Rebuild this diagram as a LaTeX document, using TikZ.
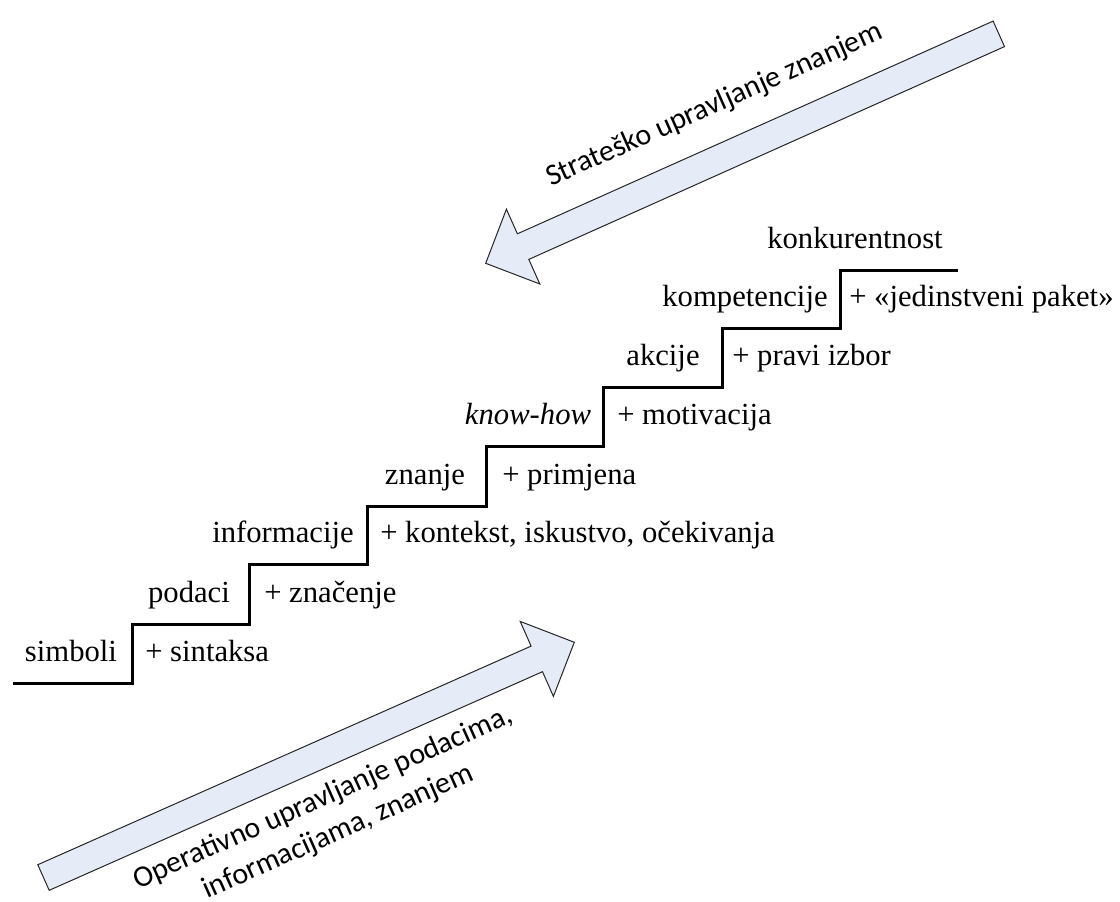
\documentclass[tikz,border=0pt]{standalone}
\usepackage{fontspec}
\setmainfont{Liberation Serif}
\newfontfamily\arrowfont{Carlito}
\definecolor{arrowfill}{RGB}{230,236,247}
\begin{document}
\begin{tikzpicture}[x=0.75pt,y=-0.75pt,
  lbl/.style={font=\fontsize{23}{27}\selectfont, inner sep=0pt, anchor=base},
  plus/.style={lbl, anchor=base west},
  arrowlbl/.style={font=\arrowfont\fontsize{22.5}{27.75}\selectfont, inner sep=0pt, anchor=base, rotate=24},
  stair/.style={line width=2.25pt, line join=miter},
  bigarrow/.style={fill=arrowfill, draw=black!85, line width=0.75pt, line join=miter}]
\fill[white] (0,0) rectangle (1120,902);
\useasboundingbox (0,0) rectangle (1120,902);

% strategic arrow (pointing down-left)
\draw[bigarrow] (993.1,21.1) -- (1004.5,46.6) -- (528.8,259.4) -- (539.8,284.0)
  -- (485.7,263.3) -- (506.4,209.2) -- (517.4,233.8) -- cycle;
% operative arrow (pointing up-right)
\draw[bigarrow] (37.8,864.7) -- (531.1,646.1) -- (520.2,621.4) -- (574.3,642.3)
  -- (553.4,696.4) -- (542.5,671.7) -- (49.2,890.3) -- cycle;

\node[arrowlbl] (strat) at (717.8,112.4) {Strateško upravljanje znanjem};
\node[arrowlbl, anchor=center, align=center] (oper) at (330.9,815.2)
  {Operativno upravljanje podacima,\\informacijama, znanjem};

% staircase
\draw[stair] (13,683) -- (132,683) -- (132,624) -- (249,624) -- (249,564)
  -- (367,564) -- (367,506) -- (486,506) -- (486,446) -- (603,446)
  -- (603,387) -- (722,387) -- (722,328) -- (840,328) -- (840,270) -- (958,270);

\node[lbl] (simboli) at (71,661) {simboli};
\node[plus] (sintaksa) at (145,661) {+ sintaksa};
\node[lbl] (podaci) at (189,602) {podaci};
\node[plus] (znacenje) at (264,602) {+ značenje};
\node[lbl] (informacije) at (283,542) {informacije};
\node[plus] (kontekst) at (380,542) {+ kontekst, iskustvo, očekivanja};
\node[lbl] (znanje) at (425,484) {znanje};
\node[plus] (primjena) at (502,484) {+ primjena};
\node[lbl] (knowhow) at (528,424) {\itshape know-how};
\node[plus] (motivacija) at (617,424) {+ motivacija};
\node[lbl] (akcije) at (663,365) {akcije};
\node[plus] (izbor) at (732,365) {+ pravi izbor};
\node[lbl] (kompetencije) at (745,306) {kompetencije};
\node[plus] (paket) at (849,306) {+ «jedinstveni paket»};
\node[lbl] (konkurentnost) at (855,248) {konkurentnost};
\end{tikzpicture}
\end{document}
